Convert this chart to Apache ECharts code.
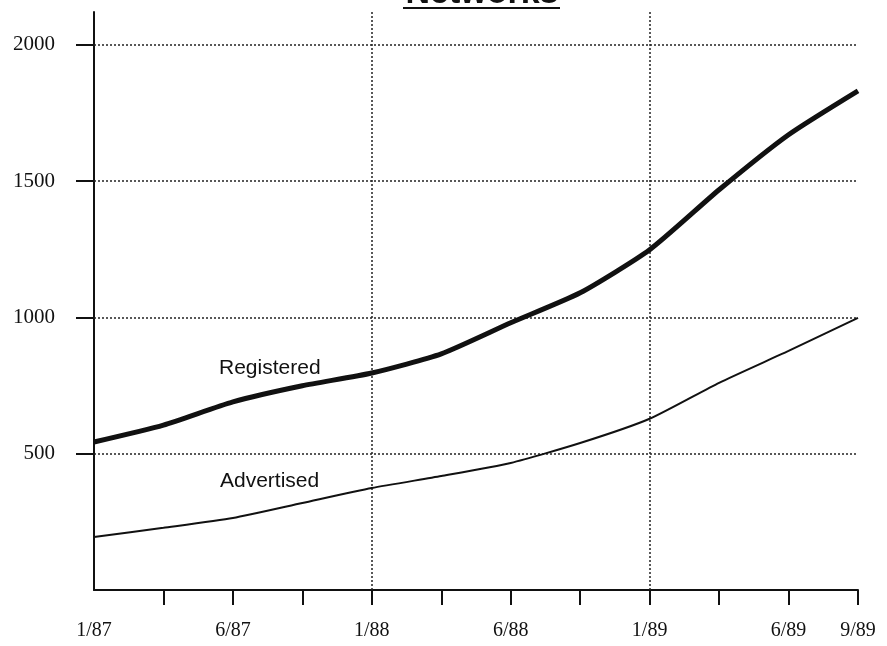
<!DOCTYPE html>
<html>
<head>
<meta charset="utf-8">
<script src="https://cdn.jsdelivr.net/npm/echarts@6/dist/echarts.min.js"></script>
<style>html,body{margin:0;padding:0;background:#fff}#c{width:887px;height:646px}</style>
</head>
<body>
<div id="c"></div>
<script>
const categories = ['1/87','','6/87','','1/88','','6/88','','1/89','','6/89','9/89'];
const registered = [543, 605, 690, 749, 796, 866, 980, 1090, 1248, 1468, 1670, 1831];
const advertised = [194, 228, 264, 319, 374, 418, 466, 539, 628, 760, 877, 998];
const yTicks = [500, 1000, 1500, 2000];
const vLines = [4, 8];
const titleText = 'Networks';

const chart = echarts.init(document.getElementById('c'));
const ink = '#111';
chart.setOption({
  animation: false,
  backgroundColor: '#fff',
  grid: { left: 94, right: 29, top: 12, bottom: 56 },
  xAxis: {
    type: 'category',
    data: categories,
    boundaryGap: false,
    axisLine: { lineStyle: { color: ink, width: 2 } },
    axisTick: { show: true, length: 15, inside: false, interval: (i) => i !== 0, lineStyle: { color: ink, width: 2 } },
    axisLabel: { interval: 0, margin: 31, color: ink, fontFamily: 'Liberation Serif', fontSize: 20 },
    splitLine: { show: false }
  },
  yAxis: {
    type: 'value',
    min: 0,
    max: 2120,
    axisLine: { show: true, lineStyle: { color: ink, width: 2 } },
    axisTick: { show: true, length: 18, customValues: yTicks, lineStyle: { color: ink, width: 2 } },
    axisLabel: { customValues: yTicks, margin: 39, color: ink, fontFamily: 'Liberation Serif', fontSize: 21, formatter: v => String(v) },
    splitLine: { show: false }
  },
  graphic: [
    { type: 'text', x: 482, y: 11, style: { text: titleText, align: 'center', verticalAlign: 'bottom', fontFamily: 'Liberation Sans', fontWeight: 'bold', fontSize: 34, fill: ink } },
    { type: 'rect', shape: { x: 403, y: 7, width: 157, height: 2 }, style: { fill: ink } },
    { type: 'text', x: 219, y: 368, style: { text: 'Registered', verticalAlign: 'middle', fontFamily: 'Liberation Sans', fontSize: 21, fill: ink } },
    { type: 'text', x: 220, y: 481, style: { text: 'Advertised', verticalAlign: 'middle', fontFamily: 'Liberation Sans', fontSize: 21, fill: ink } }
  ],
  series: [
    {
      name: 'Registered', type: 'line', data: registered, smooth: 0.2, symbol: 'none',
      lineStyle: { color: ink, width: 5 }, z: 5,
      markLine: {
        silent: true, symbol: 'none', label: { show: false },
        lineStyle: { color: '#222', type: [2, 2], width: 1.5 },
        data: yTicks.map(v => ({ yAxis: v })).concat(vLines.map(i => ({ xAxis: i })))
      }
    },
    {
      name: 'Advertised', type: 'line', data: advertised, smooth: 0.2, symbol: 'none',
      lineStyle: { color: ink, width: 2 }, z: 5
    }
  ]
});
</script>
</body>
</html>
